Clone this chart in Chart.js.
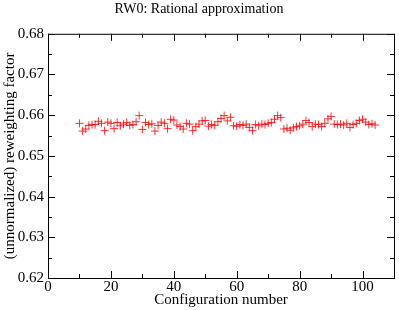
<!DOCTYPE html>
<html>
<head>
<meta charset="utf-8">
<script src="https://cdn.jsdelivr.net/npm/chart.js@4"></script>
<style>
  html, body { margin: 0; padding: 0; background: #fff; }
  #wrap { width: 399px; height: 310px; }
</style>
</head>
<body>
<div id="wrap"><canvas id="rwChart" width="399" height="310"></canvas></div>
<script>
const configs = [];
for (let c = 10; c <= 104; c++) configs.push(c);

const reweighting = [
    0.6580, 0.6561, 0.6566, 0.6575, 0.6577, 0.6577, 0.6585, 0.6580, 0.6562, 0.6583,
    0.6580, 0.6567, 0.6582, 0.6574, 0.6578, 0.6582, 0.6575, 0.6577, 0.6584, 0.6599,
    0.6565, 0.6582, 0.6577, 0.6579, 0.6561, 0.6575, 0.6583, 0.6580, 0.6567, 0.6590,
    0.6588, 0.6576, 0.6572, 0.6566, 0.6580, 0.6578, 0.6562, 0.6572, 0.6578, 0.6586,
    0.6587, 0.6573, 0.6577, 0.6575, 0.6584, 0.6592, 0.6599, 0.6586, 0.6595, 0.6574,
    0.6573, 0.6577, 0.6575, 0.6578, 0.6570, 0.6562, 0.6577, 0.6574, 0.6578, 0.6577,
    0.6580, 0.6582, 0.6590, 0.6599, 0.6594, 0.6566, 0.6568, 0.6563, 0.6569, 0.6572,
    0.6574, 0.6578, 0.6587, 0.6582, 0.6572, 0.6578, 0.6577, 0.6572, 0.6580, 0.6591,
    0.6597, 0.6578, 0.6577, 0.6578, 0.6576, 0.6580, 0.6570, 0.6577, 0.6580, 0.6587,
    0.6590, 0.6583, 0.6577, 0.6579, 0.6576
];

const xTicks = [0, 20, 40, 60, 80, 100];
const xMinor = [10, 30, 50, 70, 90, 110];
const yTicks = [0.62, 0.63, 0.64, 0.65, 0.66, 0.67, 0.68];
const yMinor = [0.625, 0.635, 0.645, 0.655, 0.665, 0.675];

const serif = "'Liberation Serif', 'DejaVu Serif', serif";

// frame and inward ticks on all four sides, xmgrace style
const framePlugin = {
    id: 'frame',
    afterDraw(chart) {
        const { ctx, chartArea: a, scales: { x, y } } = chart;
        ctx.save();
        ctx.strokeStyle = '#000';
        ctx.lineWidth = 1;
        ctx.strokeRect(a.left + 0.5, a.top + 0.5, a.right - a.left, a.bottom - a.top);
        const tick = (px, major, vertical) => {
            const len = major ? 7 : 4;
            const p = Math.round(px) + 0.5;
            ctx.beginPath();
            if (vertical) {
                ctx.moveTo(p, a.bottom); ctx.lineTo(p, a.bottom - len);
                ctx.moveTo(p, a.top); ctx.lineTo(p, a.top + len);
            } else {
                ctx.moveTo(a.left, p); ctx.lineTo(a.left + len, p);
                ctx.moveTo(a.right, p); ctx.lineTo(a.right - len, p);
            }
            ctx.stroke();
        };
        xTicks.forEach(v => tick(x.getPixelForValue(v), true, true));
        xMinor.forEach(v => tick(x.getPixelForValue(v), false, true));
        yTicks.forEach(v => tick(y.getPixelForValue(v), true, false));
        yMinor.forEach(v => tick(y.getPixelForValue(v), false, false));
        ctx.restore();
    }
};

new Chart(document.getElementById('rwChart'), {
    type: 'scatter',
    data: {
        datasets: [{
            label: 'RW0',
            data: configs.map((c, i) => ({ x: c, y: reweighting[i] })),
            pointStyle: 'cross',
            pointRadius: 4,
            pointBorderWidth: 1,
            borderColor: 'rgba(255, 0, 0, 0.8)',
            backgroundColor: 'rgba(255, 0, 0, 0.8)'
        }]
    },
    options: {
        responsive: false,
        animation: false,
        layout: { padding: { top: 0, right: 1, bottom: 0, left: 0 } },
        plugins: {
            legend: { display: false },
            tooltip: { enabled: false },
            title: {
                display: true,
                text: 'RW0: Rational approximation',
                color: '#000',
                font: { family: serif, size: 14, weight: 'normal', lineHeight: 1.2 },
                padding: { top: 1, bottom: 16 }
            }
        },
        scales: {
            x: {
                type: 'linear',
                min: 0,
                max: 110,
                afterBuildTicks: s => { s.ticks = xTicks.map(v => ({ value: v })); },
                afterFit: s => { s.height = 32; },
                grid: { display: false, drawTicks: false },
                border: { display: false },
                ticks: {
                    color: '#000',
                    padding: 2,
                    maxRotation: 0,
                    font: { family: serif, size: 15, lineHeight: 1 }
                },
                title: {
                    display: true,
                    text: 'Configuration number',
                    color: '#000',
                    padding: { top: 0, bottom: 2 },
                    font: { family: serif, size: 15, lineHeight: 1 }
                }
            },
            y: {
                type: 'linear',
                min: 0.62,
                max: 0.68,
                afterBuildTicks: s => { s.ticks = yTicks.map(v => ({ value: v })); },
                afterFit: s => { s.width = 48; },
                grid: { display: false, drawTicks: false },
                border: { display: false },
                ticks: {
                    color: '#000',
                    padding: 4,
                    font: { family: serif, size: 15 },
                    callback: v => v.toFixed(2)
                },
                title: {
                    display: true,
                    text: '(unnormalized) reweighting factor',
                    color: '#000',
                    padding: { top: 3, bottom: 0 },
                    font: { family: serif, size: 15, lineHeight: 1 }
                }
            }
        }
    },
    plugins: [framePlugin]
});
</script>
</body>
</html>
